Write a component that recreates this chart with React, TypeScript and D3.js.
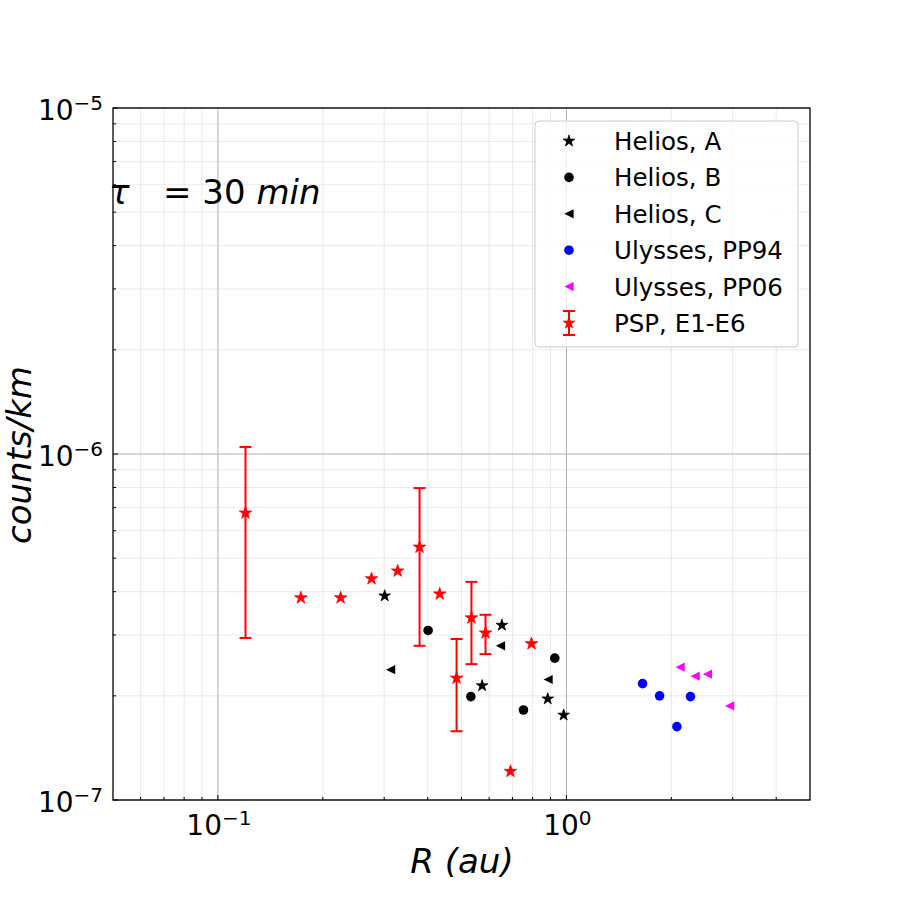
import React from "react";
import * as d3 from "d3";

const W = 900;
const H = 900;
const LEFT = 113;
const RIGHT = 810;
const TOP = 108;
const BOTTOM = 800;

// Helios A (stars)
const heliosAR = [0.301, 0.573, 0.653, 0.884, 0.982];
const heliosAN = [3.89e-7, 2.14e-7, 3.2e-7, 1.96e-7, 1.76e-7];
// Helios B (circles)
const heliosBR = [0.401, 0.532, 0.753, 0.926];
const heliosBN = [3.09e-7, 1.99e-7, 1.82e-7, 2.57e-7];
// Helios C (left triangles)
const heliosCR = [0.313, 0.647, 0.886];
const heliosCN = [2.38e-7, 2.79e-7, 2.23e-7];
// Ulysses PP94
const pp94R = [1.654, 1.851, 2.075, 2.27];
const pp94N = [2.17e-7, 2.0e-7, 1.63e-7, 1.99e-7];
// Ulysses PP06
const pp06R = [2.12, 2.34, 2.54, 2.94];
const pp06N = [2.42e-7, 2.28e-7, 2.31e-7, 1.87e-7];
// PSP E1-E6 with error bars
const pspR = [0.12, 0.173, 0.225, 0.276, 0.328, 0.379, 0.433, 0.484, 0.534, 0.586, 0.691, 0.794];
const pspN = [6.75e-7, 3.84e-7, 3.84e-7, 4.36e-7, 4.59e-7, 5.38e-7, 3.94e-7, 2.25e-7, 3.36e-7, 3.04e-7, 1.21e-7, 2.83e-7];
const pspLo = [2.94e-7, null, null, null, null, 2.79e-7, null, 1.58e-7, 2.47e-7, 2.64e-7, null, null];
const pspHi = [1.048e-6, null, null, null, null, 7.97e-7, null, 2.92e-7, 4.27e-7, 3.43e-7, null, null];

const legendLabels = ["Helios, A", "Helios, B", "Helios, C", "Ulysses, PP94", "Ulysses, PP06", "PSP, E1-E6"];
const xTickExp = [-1, 0];
const yTickExp = [-7, -6, -5];

const FONT = "DejaVu Sans";

const starPath = (r: number) => {
  const pts: string[] = [];
  for (let i = 0; i < 10; i++) {
    const a = -Math.PI / 2 + (i * Math.PI) / 5;
    const rr = i % 2 === 0 ? r : r * 0.382;
    pts.push(`${(rr * Math.cos(a)).toFixed(2)},${(rr * Math.sin(a)).toFixed(2)}`);
  }
  return "M" + pts.join("L") + "Z";
};
const triLeftPath = (h: number) => `M${-h},0L${h},${-h}L${h},${h}Z`;

const Marker = ({ kind, color, x, y, big }: { kind: string; color: string; x: number; y: number; big?: boolean }) => {
  if (kind === "circle") return <circle cx={x} cy={y} r={4.8} fill={color} />;
  if (kind === "tri") return <path d={triLeftPath(4.6)} transform={`translate(${x},${y})`} fill={color} />;
  return (
    <path
      d={starPath(big ? 6.6 : 6.1)}
      transform={`translate(${x},${y})`}
      fill={color}
      stroke={color}
      strokeWidth={0.8}
      strokeLinejoin="miter"
    />
  );
};

const Pow = ({ x, y, exp, anchor }: { x: number; y: number; exp: number; anchor: string }) => (
  <text x={x} y={y} textAnchor={anchor} fontFamily={FONT} fontSize={28} fill="#000">
    10
    <tspan dy={-10} fontSize={20}>{exp < 0 ? "\u2212" + Math.abs(exp) : String(exp)}</tspan>
  </text>
);

export default function App() {
  const x = d3.scaleLog().domain([0.05, 5]).range([LEFT, RIGHT]);
  const y = d3.scaleLog().domain([1e-7, 1e-5]).range([BOTTOM, TOP]);

  const xMinor: number[] = [];
  [0.01, 0.1, 1].forEach((d) => {
    for (let k = 2; k <= 9; k++) {
      const v = d * k;
      if (v > 0.05 && v < 5) xMinor.push(v);
    }
  });
  const yMinor: number[] = [];
  [1e-7, 1e-6].forEach((d) => {
    for (let k = 2; k <= 9; k++) yMinor.push(d * k);
  });

  const series = [
    { r: heliosAR, n: heliosAN, kind: "star", color: "#000000" },
    { r: heliosBR, n: heliosBN, kind: "circle", color: "#000000" },
    { r: heliosCR, n: heliosCN, kind: "tri", color: "#000000" },
    { r: pp94R, n: pp94N, kind: "circle", color: "#0000ff" },
    { r: pp06R, n: pp06N, kind: "tri", color: "#ff00ff" },
  ];

  const legX = 535;
  const legY = 121;
  const rowH = 36.4;

  return (
    <div style={{ position: "absolute", left: 0, top: 0 }}>
      <svg width={W} height={H} style={{ display: "block", background: "#fff" }}>
        {/* grid */}
        <g>
          {xMinor.map((v, i) => (
            <line key={"xm" + i} x1={x(v)} x2={x(v)} y1={TOP} y2={BOTTOM} stroke="#b0b0b0" strokeOpacity={0.25} strokeWidth={1} />
          ))}
          {yMinor.map((v, i) => (
            <line key={"ym" + i} y1={y(v)} y2={y(v)} x1={LEFT} x2={RIGHT} stroke="#b0b0b0" strokeOpacity={0.25} strokeWidth={1} />
          ))}
          {xTickExp.map((e) => (
            <line key={"xM" + e} x1={x(10 ** e)} x2={x(10 ** e)} y1={TOP} y2={BOTTOM} stroke="#b0b0b0" strokeWidth={1} />
          ))}
          {yTickExp.map((e) => (
            <line key={"yM" + e} y1={y(10 ** e)} y2={y(10 ** e)} x1={LEFT} x2={RIGHT} stroke="#b0b0b0" strokeWidth={1} />
          ))}
        </g>

        {/* data */}
        {series.map((s, si) => (
          <g key={"s" + si}>
            {s.r.map((r, i) => (
              <Marker key={i} kind={s.kind} color={s.color} x={x(r)} y={y(s.n[i])} />
            ))}
          </g>
        ))}
        <g>
          {pspR.map((r, i) => {
            const lo = pspLo[i];
            const hi = pspHi[i];
            if (lo == null || hi == null) return null;
            const cx = x(r);
            return (
              <g key={"e" + i} stroke="#ff0000" strokeWidth={2}>
                <line x1={cx} x2={cx} y1={y(lo)} y2={y(hi)} />
                <line x1={cx - 6} x2={cx + 6} y1={y(lo)} y2={y(lo)} />
                <line x1={cx - 6} x2={cx + 6} y1={y(hi)} y2={y(hi)} />
              </g>
            );
          })}
          {pspR.map((r, i) => (
            <Marker key={"p" + i} kind="star" color="#ff0000" x={x(r)} y={y(pspN[i])} big />
          ))}
        </g>

        {/* ticks (inward) */}
        <g stroke="#000" strokeWidth={1}>
          {xMinor.map((v, i) => (
            <line key={"xtm" + i} x1={x(v)} x2={x(v)} y1={BOTTOM} y2={BOTTOM - 3} />
          ))}
          {xTickExp.map((e) => (
            <line key={"xtM" + e} x1={x(10 ** e)} x2={x(10 ** e)} y1={BOTTOM} y2={BOTTOM - 5} />
          ))}
          {yMinor.map((v, i) => (
            <line key={"ytm" + i} y1={y(v)} y2={y(v)} x1={LEFT} x2={LEFT + 3} />
          ))}
          {yTickExp.map((e) => (
            <line key={"ytM" + e} y1={y(10 ** e)} y2={y(10 ** e)} x1={LEFT} x2={LEFT + 5} />
          ))}
        </g>

        {/* frame */}
        <rect x={LEFT} y={TOP} width={RIGHT - LEFT} height={BOTTOM - TOP} fill="none" stroke="#000" strokeWidth={1.3} />

        {/* tick labels */}
        {xTickExp.map((e) => (
          <Pow key={"xl" + e} x={x(10 ** e) + 1} y={835} exp={e} anchor="middle" />
        ))}
        {yTickExp.map((e) => (
          <Pow key={"yl" + e} x={103} y={y(10 ** e) + 12} exp={e} anchor="end" />
        ))}

        {/* axis labels */}
        <text x={462} y={873} textAnchor="middle" fontFamily={FONT} fontStyle="italic" fontSize={34}>
          R (au)
        </text>
        <text transform={`translate(31,455) rotate(-90)`} textAnchor="middle" fontFamily={FONT} fontStyle="italic" fontSize={34}>
          counts/km
        </text>

        {/* annotation */}
        <text x={109} y={204} fontFamily={FONT} fontSize={34}>
          <tspan fontStyle="italic">τ</tspan>
          <tspan x={163}>= 30 </tspan>
          <tspan fontStyle="italic">min</tspan>
        </text>

        {/* legend */}
        <g>
          <rect x={legX} y={legY} width={263} height={226} rx={4} fill="#fff" fillOpacity={0.8} stroke="#cccccc" strokeWidth={1} />
          {legendLabels.map((lab, i) => {
            const cy = legY + 20 + i * rowH;
            const mx = 569;
            let mark: React.ReactNode;
            if (i < 5) {
              const s = series[i];
              mark = <Marker kind={s.kind} color={s.color} x={mx} y={cy} />;
            } else {
              mark = (
                <g>
                  <g stroke="#ff0000" strokeWidth={2}>
                    <line x1={mx} x2={mx} y1={cy - 12} y2={cy + 12} />
                    <line x1={mx - 6} x2={mx + 6} y1={cy - 12} y2={cy - 12} />
                    <line x1={mx - 6} x2={mx + 6} y1={cy + 12} y2={cy + 12} />
                  </g>
                  <Marker kind="star" color="#ff0000" x={mx} y={cy} />
                </g>
              );
            }
            return (
              <g key={lab}>
                {mark}
                <text x={614} y={cy + 9} fontFamily={FONT} fontSize={24.5}>
                  {lab}
                </text>
              </g>
            );
          })}
        </g>
      </svg>
    </div>
  );
}
